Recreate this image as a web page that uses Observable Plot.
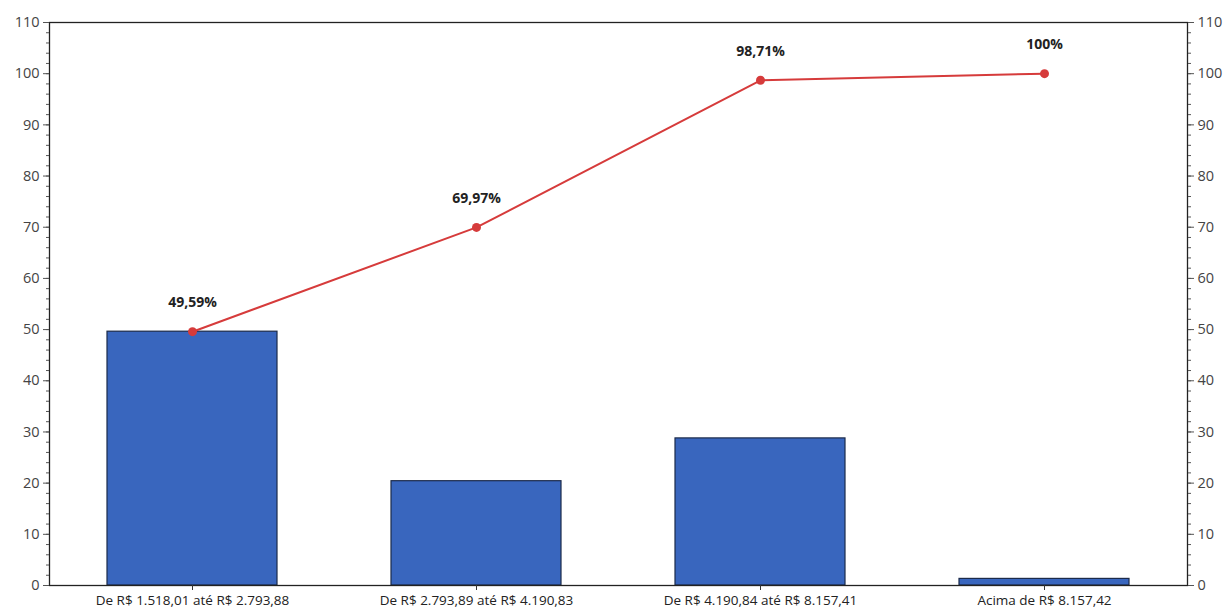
<!DOCTYPE html>
<html>
<head>
<meta charset="utf-8">
<script src="https://cdn.jsdelivr.net/npm/d3@7"></script>
<script src="https://cdn.jsdelivr.net/npm/@observablehq/plot@0.6"></script>
<style>
  html, body { margin: 0; padding: 0; background: #fff; }
  #chart { width: 1228px; height: 610px; }
</style>
</head>
<body>
<div id="chart"></div>
<script>
const categories = [
  "De R$ 1.518,01 até R$ 2.793,88",
  "De R$ 2.793,89 até R$ 4.190,83",
  "De R$ 4.190,84 até R$ 8.157,41",
  "Acima de R$ 8.157,42"
];
const barValues = [49.59, 20.38, 28.74, 1.29];
const cumulativeValues = [49.59, 69.97, 98.71, 100];
const cumulativeLabels = ["49,59%", "69,97%", "98,71%", "100%"];
const majorTicks = [0, 10, 20, 30, 40, 50, 60, 70, 80, 90, 100, 110];
const minorTicks = d3.range(0, 111, 2);

const data = categories.map((c, i) => ({
  cat: c, bar: barValues[i], cum: cumulativeValues[i], label: cumulativeLabels[i]
}));

const font = "'Open Sans', 'Noto Sans', sans-serif";

const chart = Plot.plot({
  width: 1228,
  height: 610,
  marginLeft: 49,
  marginRight: 41,
  marginTop: 22,
  marginBottom: 25,
  style: { fontFamily: font, background: "#fff", color: "#333" },
  x: { domain: categories, paddingInner: 0.4, paddingOuter: 0.2, label: null },
  y: { domain: [0, 110], label: null },
  marks: [
    Plot.barY(data, { x: "cat", y: "bar", fill: "#3966BE", stroke: "#1c2a4a", strokeWidth: 1.2 }),
    Plot.frame({ stroke: "#222", strokeWidth: 1.3 }),
    Plot.axisY({ anchor: "left", ticks: minorTicks, tickSize: 3, text: null, stroke: "#555" }),
    Plot.axisY({ anchor: "right", ticks: minorTicks, tickSize: 3, text: null, stroke: "#555" }),
    Plot.axisY({ anchor: "left", ticks: majorTicks, tickSize: 6, tickPadding: 4, fontSize: 14.5, fill: "#444", stroke: "#555", label: null }),
    Plot.axisY({ anchor: "right", ticks: majorTicks, tickSize: 6, tickPadding: 4, fontSize: 14.5, fill: "#444", stroke: "#555", label: null }),
    Plot.axisX({ tickSize: 5, tickPadding: 5, fontSize: 13.5, fill: "#222", stroke: "#333", label: null }),
    Plot.line(data, { x: "cat", y: "cum", stroke: "#d63b3b", strokeWidth: 2 }),
    Plot.dot(data, { x: "cat", y: "cum", r: 4.5, fill: "#d63b3b", stroke: "none" }),
    Plot.text(data, { x: "cat", y: "cum", text: "label", dy: -29, fontSize: 14, fontWeight: "bold", fill: "#222" })
  ]
});

document.getElementById("chart").appendChild(chart);
</script>
</body>
</html>
